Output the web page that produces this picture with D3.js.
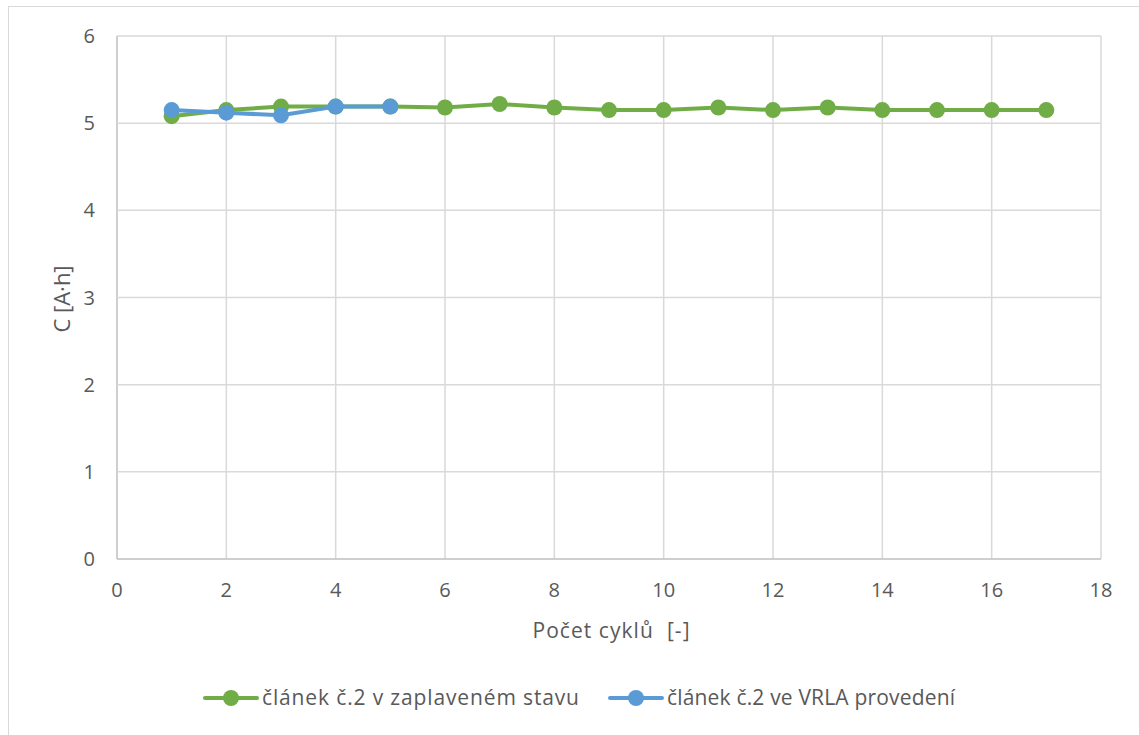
<!DOCTYPE html>
<html><head><meta charset="utf-8">
<script src="https://cdn.jsdelivr.net/npm/d3@7"></script>
<style>body{margin:0;background:#fff;} text{font-family:"Open Sans","Liberation Sans",sans-serif;fill:#595959;}</style>
</head><body>
<svg id="c" width="1139" height="735"></svg>
<script>
const cycles = [1,2,3,4,5,6,7,8,9,10,11,12,13,14,15,16,17];
const flooded = [5.08,5.15,5.19,5.19,5.19,5.18,5.22,5.18,5.15,5.15,5.18,5.15,5.18,5.15,5.15,5.15,5.15];
const vrlaCycles = [1,2,3,4,5];
const vrla = [5.15,5.12,5.09,5.19,5.19];
const xTicks = [0,2,4,6,8,10,12,14,16,18];
const yTicks = [0,1,2,3,4,5,6];
const seriesNames = ["článek č.2 v zaplaveném stavu","článek č.2 ve VRLA provedení"];
const colors = ["#70AD47","#5B9BD5"];

const svg = d3.select("#c");
svg.append("rect").attr("x",8.5).attr("y",6.5).attr("width",1140).attr("height",740)
  .attr("fill","none").attr("stroke","#d9d9d9");
const L=117,R=1101,T=36,B=559;
const x = d3.scaleLinear().domain([0,18]).range([L,R]);
const y = d3.scaleLinear().domain([0,6]).range([B,T]);

const g = svg.append("g");
g.selectAll(".vg").data(xTicks).join("line").attr("x1",d=>x(d)).attr("x2",d=>x(d))
  .attr("y1",T).attr("y2",B).attr("stroke",(d,i)=>i===0?"#bfbfbf":"#d9d9d9").attr("stroke-width",1.5);
g.selectAll(".hg").data(yTicks).join("line").attr("y1",d=>y(d)).attr("y2",d=>y(d))
  .attr("x1",L).attr("x2",R).attr("stroke",(d,i)=>i===0?"#bfbfbf":"#d9d9d9").attr("stroke-width",1.5);

g.selectAll(".yl").data(yTicks).join("text").attr("x",95).attr("y",d=>y(d)).attr("dy","0.35em")
  .attr("text-anchor","end").attr("font-size",20).text(d=>d);
g.selectAll(".xl").data(xTicks).join("text").attr("x",d=>x(d)).attr("y",590).attr("dy","0.35em")
  .attr("text-anchor","middle").attr("font-size",20).text(d=>d);

svg.append("text").attr("x",611).attr("y",631).attr("dy","0.35em").attr("text-anchor","middle")
  .attr("font-size",21).attr("xml:space","preserve").attr("textLength",157).attr("lengthAdjust","spacing")
  .text("Počet cyklů  [-]");
svg.append("text").attr("transform","translate(62,299) rotate(-90)").attr("dy","0.35em")
  .attr("text-anchor","middle").attr("font-size",22).text("C [A·h]");

const line = d3.line().x(d=>x(d[0])).y(d=>y(d[1]));
const sets = [d3.zip(cycles,flooded), d3.zip(vrlaCycles,vrla)];
sets.forEach((s,i)=>{
  svg.append("path").datum(s).attr("d",line).attr("fill","none").attr("stroke",colors[i])
    .attr("stroke-width",4).attr("stroke-linejoin","round").attr("stroke-linecap","round");
  svg.append("g").selectAll("circle").data(s).join("circle").attr("cx",d=>x(d[0])).attr("cy",d=>y(d[1]))
    .attr("r",8).attr("fill",colors[i]);
});

const legX=[205,610];
const legLen=[317,288];
seriesNames.forEach((n,i)=>{
  const lg = svg.append("g").attr("transform",`translate(${legX[i]},698)`);
  lg.append("line").attr("x1",0).attr("x2",52).attr("stroke",colors[i]).attr("stroke-width",4).attr("stroke-linecap","round");
  lg.append("circle").attr("cx",26).attr("r",8).attr("fill",colors[i]);
  lg.append("text").attr("x",57).attr("dy","0.35em").attr("font-size",21)
    .attr("textLength",legLen[i]).attr("lengthAdjust","spacing").text(n);
});
</script>
</body></html>
